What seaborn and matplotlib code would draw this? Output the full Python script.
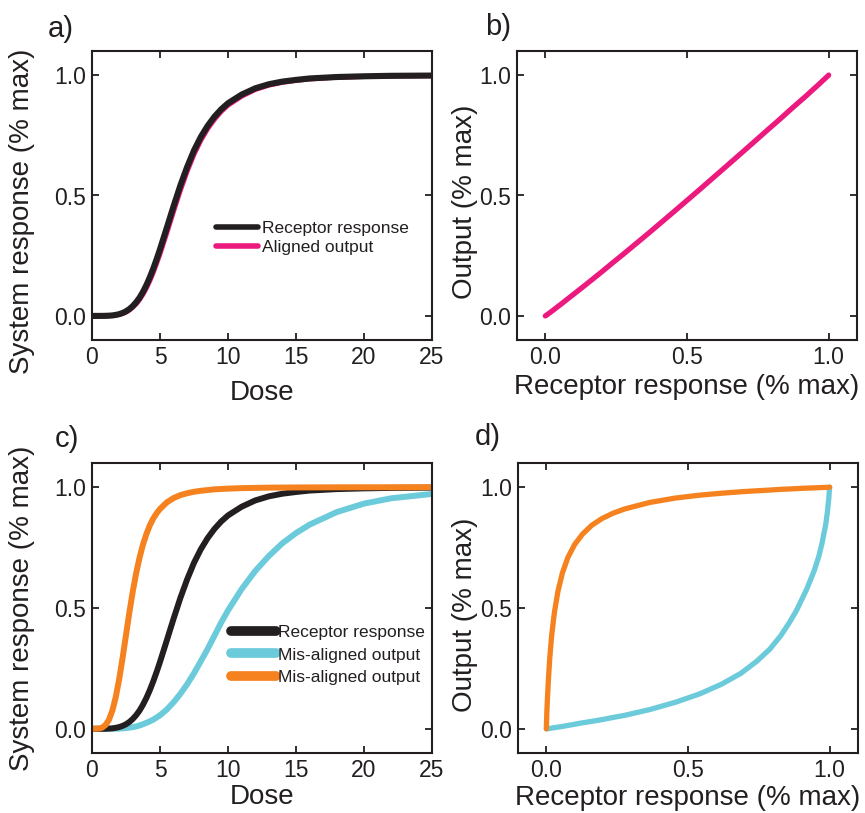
import numpy as np
import pandas as pd
import matplotlib
matplotlib.use("Agg")
import matplotlib.pyplot as plt
import seaborn as sns

# values (dose beyond 25 is clipped by the axis)
dose = [0, 0.5, 0.75, 1, 1.25, 1.5, 1.75, 2, 2.25, 2.5, 2.75, 3, 3.25, 3.5, 3.75, 4,
        4.25, 4.5, 4.75, 5, 5.5, 6, 6.5, 7, 7.5, 8, 8.5, 9, 9.5, 10, 11, 12, 13, 14,
        15, 16, 18, 20, 22, 25, 30, 40, 60, 100]
receptor = [0, 0, 0.0001, 0.0004, 0.001, 0.002, 0.0042, 0.0074, 0.0122, 0.019, 0.0285,
            0.041, 0.0567, 0.076, 0.100, 0.128, 0.160, 0.196, 0.235, 0.277, 0.366, 0.456,
            0.542, 0.619, 0.687, 0.743, 0.789, 0.827, 0.858, 0.883, 0.919, 0.945, 0.962,
            0.973, 0.98, 0.986, 0.992, 0.995, 0.997, 0.998, 0.999, 0.9997, 1.0, 1.0]
aligned = [0, 0, 0.0001, 0.0003, 0.0008, 0.0017, 0.0035, 0.006, 0.0101, 0.016, 0.0245,
           0.036, 0.050, 0.068, 0.090, 0.116, 0.146, 0.18, 0.218, 0.258, 0.345, 0.435,
           0.522, 0.601, 0.671, 0.729, 0.777, 0.816, 0.849, 0.875, 0.912, 0.94, 0.958,
           0.97, 0.978, 0.984, 0.991, 0.994, 0.996, 0.9975, 0.9985, 0.9996, 1.0, 1.0]
mis_right = [0, 0, 0, 0.0001, 0.0002, 0.0004, 0.0007, 0.001, 0.002, 0.003, 0.005, 0.007,
             0.010, 0.014, 0.019, 0.025, 0.031, 0.038, 0.047, 0.056, 0.08, 0.11, 0.145,
             0.185, 0.23, 0.28, 0.33, 0.385, 0.44, 0.49, 0.578, 0.653, 0.715, 0.768, 0.81,
             0.845, 0.897, 0.932, 0.954, 0.972, 0.988, 0.997, 1.0, 1.0]
mis_left = [0, 0.001, 0.005, 0.016, 0.038, 0.076, 0.132, 0.206, 0.294, 0.388, 0.482,
            0.569, 0.645, 0.709, 0.763, 0.806, 0.842, 0.870, 0.892, 0.910, 0.937, 0.955,
            0.967, 0.975, 0.981, 0.985, 0.988, 0.991, 0.9925, 0.994, 0.996, 0.997, 0.998,
            0.9984, 0.9988, 0.999, 0.9994, 0.9996, 0.9997, 0.9998, 0.9999, 1.0, 1.0, 1.0]

df = pd.DataFrame({"dose": dose, "receptor": receptor, "aligned": aligned,
                   "mis_right": mis_right, "mis_left": mis_left})

dark = "#231f20"
pink = "#ec1a7f"
cyan = "#6ccbda"
orange = "#f5821f"

sns.set_style("ticks")
plt.rcParams["font.family"] = ["Liberation Sans", "DejaVu Sans"]
plt.rcParams["text.color"] = dark
plt.rcParams["axes.labelcolor"] = dark
plt.rcParams["xtick.color"] = dark
plt.rcParams["ytick.color"] = dark

fig = plt.figure(figsize=(8.65, 8.13), dpi=100)
W, H = 865, 813


def make_ax(left, top, right, bottom):
    return fig.add_axes([left / W, 1 - bottom / H, (right - left) / W, (bottom - top) / H])


ax_a = make_ax(92, 51, 432, 340)
ax_b = make_ax(517, 51, 857, 340)
ax_c = make_ax(92, 463, 432, 753)
ax_d = make_ax(518, 463, 858, 753)

kw = dict(estimator=None, sort=False, solid_capstyle="round")

# a)
sns.lineplot(data=df, x="dose", y="aligned", color=pink, lw=3.6, label="Aligned output", ax=ax_a, **kw)
sns.lineplot(data=df, x="dose", y="receptor", color=dark, lw=4.4, label="Receptor response", ax=ax_a, **kw)
h, l = ax_a.get_legend_handles_labels()
leg = ax_a.legend([h[1], h[0]], [l[1], l[0]], loc="center left", bbox_to_anchor=(0.34, 0.353),
                  frameon=False, fontsize=12.5, borderpad=0, handlelength=2.4,
                  handletextpad=0.25, labelspacing=0.27)
for ln in leg.get_lines():
    ln.set_linewidth(4)
    ln.set_solid_capstyle("round")

# b)
sns.lineplot(data=df, x="receptor", y="aligned", color=pink, lw=3.8, ax=ax_b, legend=False, **kw)

# c)
sns.lineplot(data=df, x="dose", y="mis_right", color=cyan, lw=4.3, label="Mis-aligned output", ax=ax_c, **kw)
sns.lineplot(data=df, x="dose", y="receptor", color=dark, lw=4.3, label="Receptor response", ax=ax_c, **kw)
sns.lineplot(data=df, x="dose", y="mis_left", color=orange, lw=4.3, label="Mis-aligned output", ax=ax_c, **kw)
h, l = ax_c.get_legend_handles_labels()
leg = ax_c.legend([h[1], h[0], h[2]], [l[1], l[0], l[2]], loc="center left",
                  bbox_to_anchor=(0.383, 0.338), frameon=False, fontsize=12.5, borderpad=0,
                  handlelength=2.6, handletextpad=0.1, labelspacing=0.4)
for ln in leg.get_lines():
    ln.set_linewidth(7)
    ln.set_solid_capstyle("round")

# d)
sns.lineplot(data=df, x="receptor", y="mis_right", color=cyan, lw=3.8, ax=ax_d, legend=False, **kw)
sns.lineplot(data=df, x="receptor", y="mis_left", color=orange, lw=3.8, ax=ax_d, legend=False, **kw)

for ax, xl, yl, xc, yc, ym in [
    (ax_a, "Dose", "System response (% max)", -0.183, -0.206, 0.445),
    (ax_b, "Receptor response (% max)", "Output (% max)", -0.163, -0.153, 0.479),
    (ax_c, "Dose", "System response (% max)", -0.152, -0.206, 0.5),
    (ax_d, "Receptor response (% max)", "Output (% max)", -0.155, -0.156, 0.476),
]:
    ax.set_ylim(-0.1, 1.1)
    ax.set_yticks([0, 0.5, 1.0])
    if xl == "Dose":
        ax.set_xlim(0, 25)
        ax.set_xticks([0, 5, 10, 15, 20, 25])
    else:
        ax.set_xlim(-0.1, 1.1)
        ax.set_xticks([0, 0.5, 1.0])
        ax.set_xticklabels(["0.0", "0.5", "1.0"])
    ax.set_yticklabels(["0.0", "0.5", "1.0"])
    ax.set_xlabel(xl, fontsize=20, va="center")
    ax.set_ylabel(yl, fontsize=20, va="center")
    ax.xaxis.set_label_coords(0.5, xc)
    ax.yaxis.set_label_coords(yc, ym)
    ax.tick_params(direction="in", top=True, right=True, length=5, width=1.3,
                   labelsize=16.5, pad=4)
    for sp in ax.spines.values():
        sp.set_linewidth(1.5)
        sp.set_color(dark)

fig.text(48 / W, 1 - 37 / H, "a)", fontsize=21, va="baseline")
fig.text(485 / W, 1 - 35 / H, "b)", fontsize=21, va="baseline")
fig.text(55 / W, 1 - 447 / H, "c)", fontsize=21, va="baseline")
fig.text(475 / W, 1 - 445 / H, "d)", fontsize=21, va="baseline")

fig.savefig("out.png", dpi=100)
